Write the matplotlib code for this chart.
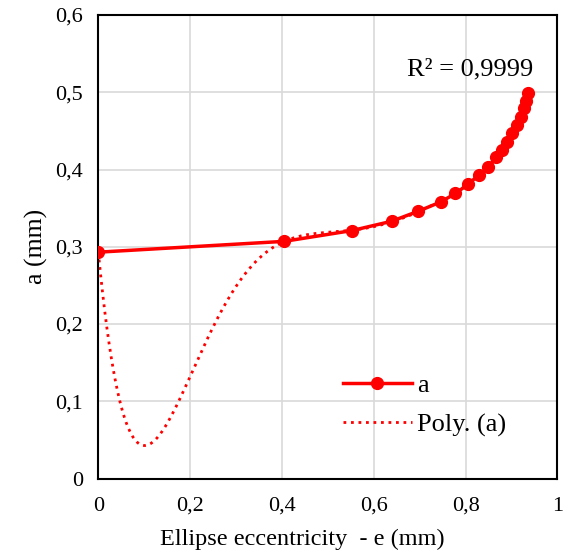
import numpy as np
import matplotlib.pyplot as plt

plt.rcParams['font.family'] = ['Liberation Serif', 'DejaVu Serif']

# eccentricity e and semi-axis a
e = [0.0, 0.405, 0.553, 0.639, 0.697, 0.746, 0.778, 0.806, 0.829, 0.850,
     0.866, 0.879, 0.891, 0.902, 0.913, 0.920, 0.927, 0.932, 0.937]
a = [0.293, 0.307, 0.321, 0.333, 0.346, 0.358, 0.369, 0.381, 0.393, 0.403,
     0.416, 0.425, 0.436, 0.447, 0.457, 0.468, 0.479, 0.489, 0.499]
xticks = [0, 0.2, 0.4, 0.6, 0.8, 1]
yticks = [0, 0.1, 0.2, 0.3, 0.4, 0.5, 0.6]
r2_label = 'R² = 0,9999'

def comma(v):
    return ('%g' % v).replace('.', ',')

fig = plt.figure(figsize=(5.67, 5.60), dpi=100)
ax = fig.add_axes([0.1734, 0.1455, 0.8095, 0.8277])

# polynomial trendline (order 6) fitted to the series
coef = np.polyfit(e, a, 6)
xs = np.linspace(min(e), max(e), 400)
ys = np.polyval(coef, xs)

ax.plot(e, a, color='#ff0000', lw=2.5, marker='o', ms=8.5, label='a', zorder=3)
ax.plot(xs, ys, color='#ff0000', lw=2, ls=(0, (1, 1.7)), label='Poly. (a)', zorder=2)

ax.set_xlim(0, 1)
ax.set_ylim(0, 0.6)
ax.set_xticks(xticks)
ax.set_yticks(yticks)
ax.set_xticklabels([comma(v) for v in xticks])
ax.set_yticklabels([comma(v) for v in yticks])
ax.tick_params(length=0, labelsize=16)
ax.tick_params(axis='x', pad=13)
ax.tick_params(axis='y', pad=11)
ax.grid(color='#d9d9d9', lw=1.2)
ax.set_axisbelow(True)
for s in ax.spines.values():
    s.set_color('black')
    s.set_linewidth(1.5)

ax.set_xlabel('Ellipse eccentricity  - e (mm)', fontsize=17.5)
ax.xaxis.set_label_coords(0.444, -0.108)
ax.set_ylabel('a (mm)', fontsize=18.5, labelpad=5)

ax.text(0.81, 0.883, r2_label, fontsize=19, ha='center', va='center',
        transform=ax.transAxes)

ax.legend(loc='upper left', bbox_to_anchor=(0.533, 0.226), frameon=False,
          fontsize=19, handlelength=2.6, handletextpad=0.2, labelspacing=0.6,
          borderpad=0, borderaxespad=0)

fig.savefig('out.png', dpi=100)
